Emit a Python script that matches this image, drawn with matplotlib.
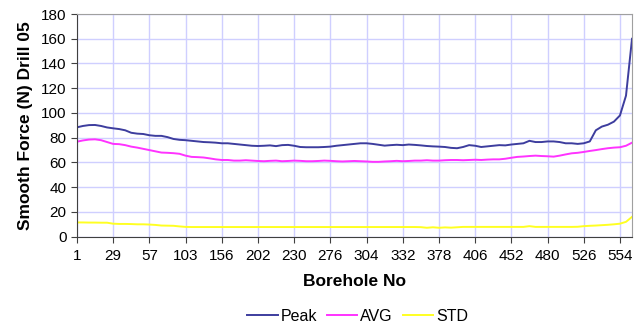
import matplotlib.pyplot as plt
import numpy as np

# borehole tick labels (one label every 6 categories)
tick_labels = [1, 29, 57, 103, 156, 202, 230, 276, 304, 332, 378, 406, 452, 480, 526, 554]

peak = [88.4, 89.5, 90.2, 90.3, 89.5, 88.3, 87.6, 87.0, 86.0, 84.0,
        83.3, 83.0, 82.0, 81.5, 81.5, 80.5, 79.0, 78.3, 78.0, 77.5,
        77.0, 76.5, 76.3, 76.0, 75.5, 75.5, 75.0, 74.5, 74.0, 73.5,
        73.3, 73.5, 73.8, 73.2, 74.0, 74.2, 73.5, 72.5, 72.3, 72.3,
        72.3, 72.5, 72.8, 73.5, 74.0, 74.5, 75.0, 75.5, 75.5, 75.0,
        74.3, 73.6, 74.0, 74.3, 74.0, 74.5, 74.2, 73.8, 73.3, 73.0,
        72.8, 72.5, 71.8, 71.5, 72.5, 74.0, 73.5, 72.5, 73.0, 73.5,
        74.0, 73.8, 74.5, 75.0, 75.5, 77.5, 76.5, 76.5, 77.0, 77.0,
        76.5, 75.5, 75.5, 75.0, 75.5, 77.0, 86.0, 89.0, 90.5, 93.0,
        98.0, 114.0, 160.0]

avg = [76.8, 77.8, 78.5, 78.7, 78.0, 76.5, 75.0, 74.8, 74.0, 72.8,
       72.0, 71.0, 70.0, 69.0, 68.0, 67.8, 67.5, 67.0, 65.5, 64.5,
       64.3, 64.0, 63.3, 62.5, 62.0, 62.0, 61.5, 61.5, 61.8, 61.5,
       61.2, 61.0, 61.3, 61.5, 61.0, 61.2, 61.5, 61.3, 61.0, 61.0,
       61.2, 61.5, 61.3, 61.0, 60.8, 61.0, 61.2, 61.0, 60.8, 60.5,
       60.5, 60.8, 61.0, 61.3, 61.0, 61.2, 61.5, 61.5, 61.8, 61.5,
       61.5, 61.8, 62.0, 62.0, 61.8, 62.0, 62.2, 62.0, 62.3, 62.5,
       62.5, 63.0, 63.8, 64.5, 64.8, 65.2, 65.5, 65.2, 65.0, 64.7,
       65.5, 66.5, 67.4, 67.8, 68.5, 69.3, 70.0, 70.8, 71.5, 72.0,
       72.3, 73.5, 76.0]

std = [11.5, 11.5, 11.4, 11.4, 11.3, 11.3, 10.5, 10.3, 10.3, 10.2,
       10.0, 10.0, 9.8, 9.5, 9.0, 8.9, 8.8, 8.3, 7.9, 7.8,
       7.8, 7.8, 7.8, 7.8, 7.8, 7.8, 7.8, 7.8, 7.8, 7.8,
       7.8, 7.8, 7.8, 7.8, 7.8, 7.8, 7.8, 7.8, 7.8, 7.8,
       7.8, 7.8, 7.8, 7.8, 7.8, 7.8, 7.8, 7.8, 7.8, 7.8,
       7.8, 7.8, 7.8, 7.8, 7.8, 7.8, 7.8, 7.7, 7.2, 7.6,
       7.2, 7.5, 7.3, 7.6, 7.9, 7.9, 7.9, 7.9, 7.9, 7.9,
       7.9, 7.9, 7.9, 7.9, 7.9, 8.5, 7.9, 7.9, 7.9, 7.9,
       7.9, 7.9, 7.9, 8.0, 8.5, 8.8, 9.0, 9.3, 9.6, 10.0,
       10.5, 12.0, 16.0]

x = np.arange(len(peak))
tick_pos = np.arange(len(tick_labels)) * 6

plt.rcParams['font.family'] = ['Liberation Sans', 'DejaVu Sans']

fig = plt.figure(figsize=(6.41, 3.26), dpi=100)
ax = fig.add_axes([0.120, 0.274, 0.866, 0.683])

ax.plot(x, peak, color='#3d3d9e', linewidth=1.4, label='Peak')
ax.plot(x, avg, color='#ff33ff', linewidth=1.4, label='AVG')
ax.plot(x, std, color='#ffff22', linewidth=1.4, label='STD')

ax.set_xlim(0, len(peak) - 1)
ax.set_ylim(0, 180)
ax.set_yticks(range(0, 181, 20))
ax.set_xticks(tick_pos)
ax.set_xticklabels([str(t) for t in tick_labels])
ax.tick_params(labelsize=11, length=4, color='#404040', direction='out')
ax.tick_params(axis='x', pad=5)

ax.grid(True, color='#cfcfff', linewidth=1.0)
ax.set_axisbelow(True)
for side in ['top', 'right']:
    ax.spines[side].set_color('#a0a0a0')
for side in ['left', 'bottom']:
    ax.spines[side].set_color('#404040')

ax.set_ylabel('Smooth Force (N) Drill 05', fontsize=12.5, fontweight='bold', labelpad=6)
ax.set_xlabel('Borehole No', fontsize=12.5, fontweight='bold', labelpad=8)

fig.legend(loc='center', bbox_to_anchor=(0.558, 0.03), ncol=3, frameon=False,
           fontsize=11.5, handlelength=1.9, columnspacing=0.6, handletextpad=0.2)

fig.savefig('out.png', dpi=100)
